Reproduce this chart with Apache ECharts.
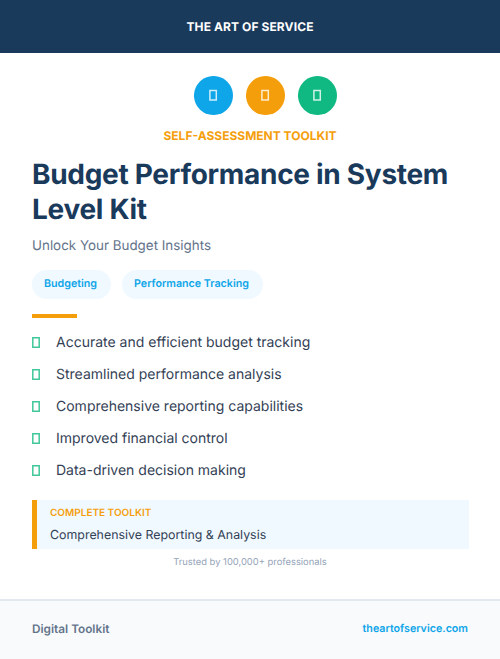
<!DOCTYPE html>
<html>
<head>
<meta charset="utf-8">
<style>html,body{margin:0;padding:0;background:#fff}#main{width:500px;height:659px}#main text{text-rendering:geometricPrecision}</style>
<script src="https://cdn.jsdelivr.net/npm/echarts@6/dist/echarts.min.js"></script>
</head>
<body>
<div id="main"></div>
<script>
const brand = 'THE ART OF SERVICE';
const eyebrow = 'SELF-ASSESSMENT TOOLKIT';
const titleLines = ['Budget Performance in System', 'Level Kit'];
const subtitle = 'Unlock Your Budget Insights';
const tags = ['Budgeting', 'Performance Tracking'];
const features = [
  'Accurate and efficient budget tracking',
  'Streamlined performance analysis',
  'Comprehensive reporting capabilities',
  'Improved financial control',
  'Data-driven decision making'
];
const calloutLabel = 'COMPLETE TOOLKIT';
const calloutText = 'Comprehensive Reporting & Analysis';
const trusted = 'Trusted by 100,000+ professionals';
const footerLeft = 'Digital Toolkit';
const footerRight = 'theartofservice.com';
const iconColors = ['#0ea5e9', '#f59e0b', '#10b981'];

const FONT = 'Inter';
const text = (x, y, str, size, weight, fill, align) => ({
  type: 'text', x, y,
  style: { text: str, fontFamily: FONT, fontSize: size, fontWeight: weight, fill, textAlign: align || 'left', textVerticalAlign: 'middle' }
});
const rect = (x, y, width, height, fill, r) => ({
  type: 'rect', shape: { x, y, width, height, r: r || 0 }, style: { fill }
});
const tofu = (x, y, w, h, stroke) => ({
  type: 'rect', shape: { x, y, width: w, height: h }, style: { fill: 'transparent', stroke, lineWidth: 1.5 }
});

const els = [];
// header
els.push(rect(0, 0, 500, 53, '#1a3a5c'));
els.push(text(250, 26.5, brand, 12, 700, '#ffffff', 'center'));
// icons
iconColors.forEach((c, i) => {
  const cx = 213.5 + i * 52;
  els.push({ type: 'circle', shape: { cx, cy: 95.5, r: 19.5 }, style: { fill: c } });
  els.push(tofu(cx - 3.6, 90.4, 6.4, 9.6, 'rgba(255,255,255,0.8)'));
});
els.push(text(250, 135.5, eyebrow, 12, 700, '#f59e0b', 'center'));
// title
titleLines.forEach((t, i) => els.push(text(32, 174 + i * 35, t, 28, 700, '#1a3a5c')));
els.push(text(32, 245.5, subtitle, 13.4, 400, '#64748b'));
// tags
const tagBoxes = [[32, 79], [122, 141]];
tags.forEach((t, i) => {
  const [x, w] = tagBoxes[i];
  els.push(rect(x, 270, w, 29, '#f0f9ff', 14.5));
  els.push(text(x + 12, 283, t, 10.7, 600, '#0ea5e9'));
});
els.push(rect(32, 314, 45, 4, '#f59e0b'));
// features
features.forEach((f, i) => {
  const y = 342 + i * 32;
  els.push(tofu(32.8, y - 4.3, 6.4, 9.6, 'rgba(16,185,129,0.8)'));
  els.push(text(56, y, f, 14, 400, '#334155'));
});
// callout
els.push(rect(32, 500, 437, 49, '#f0f9ff'));
els.push(rect(32, 500, 5, 49, '#f59e0b'));
els.push(text(50, 512.5, calloutLabel, 10, 600, '#f59e0b'));
els.push(text(50, 534.5, calloutText, 12.4, 400, '#334155'));
els.push(text(250, 562.5, trusted, 9.4, 400, '#94a3b8', 'center'));
// footer
els.push(rect(0, 600, 500, 59, '#f8fafc'));
els.push(rect(0, 599, 500, 2, '#e2e8f0'));
els.push(text(32, 628.5, footerLeft, 11.8, 600, '#64748b'));
els.push(text(468, 628, footerRight, 10.7, 600, '#0ea5e9', 'right'));

const myChart = echarts.init(document.getElementById('main'), null, { renderer: 'svg' });
myChart.setOption({
  animation: false,
  backgroundColor: '#ffffff',
  graphic: { elements: els }
});
// zrender has no letter spacing, set it on the svg text nodes
const spacing = { [titleLines[0]]: '-0.3px', [titleLines[1]]: '-0.3px', [brand]: '0.1px' };
function applySpacing() {
  document.querySelectorAll('#main text').forEach(n => {
    if (spacing[n.textContent]) n.setAttribute('letter-spacing', spacing[n.textContent]);
  });
}
myChart.on('finished', applySpacing);
applySpacing();
</script>
</body>
</html>
